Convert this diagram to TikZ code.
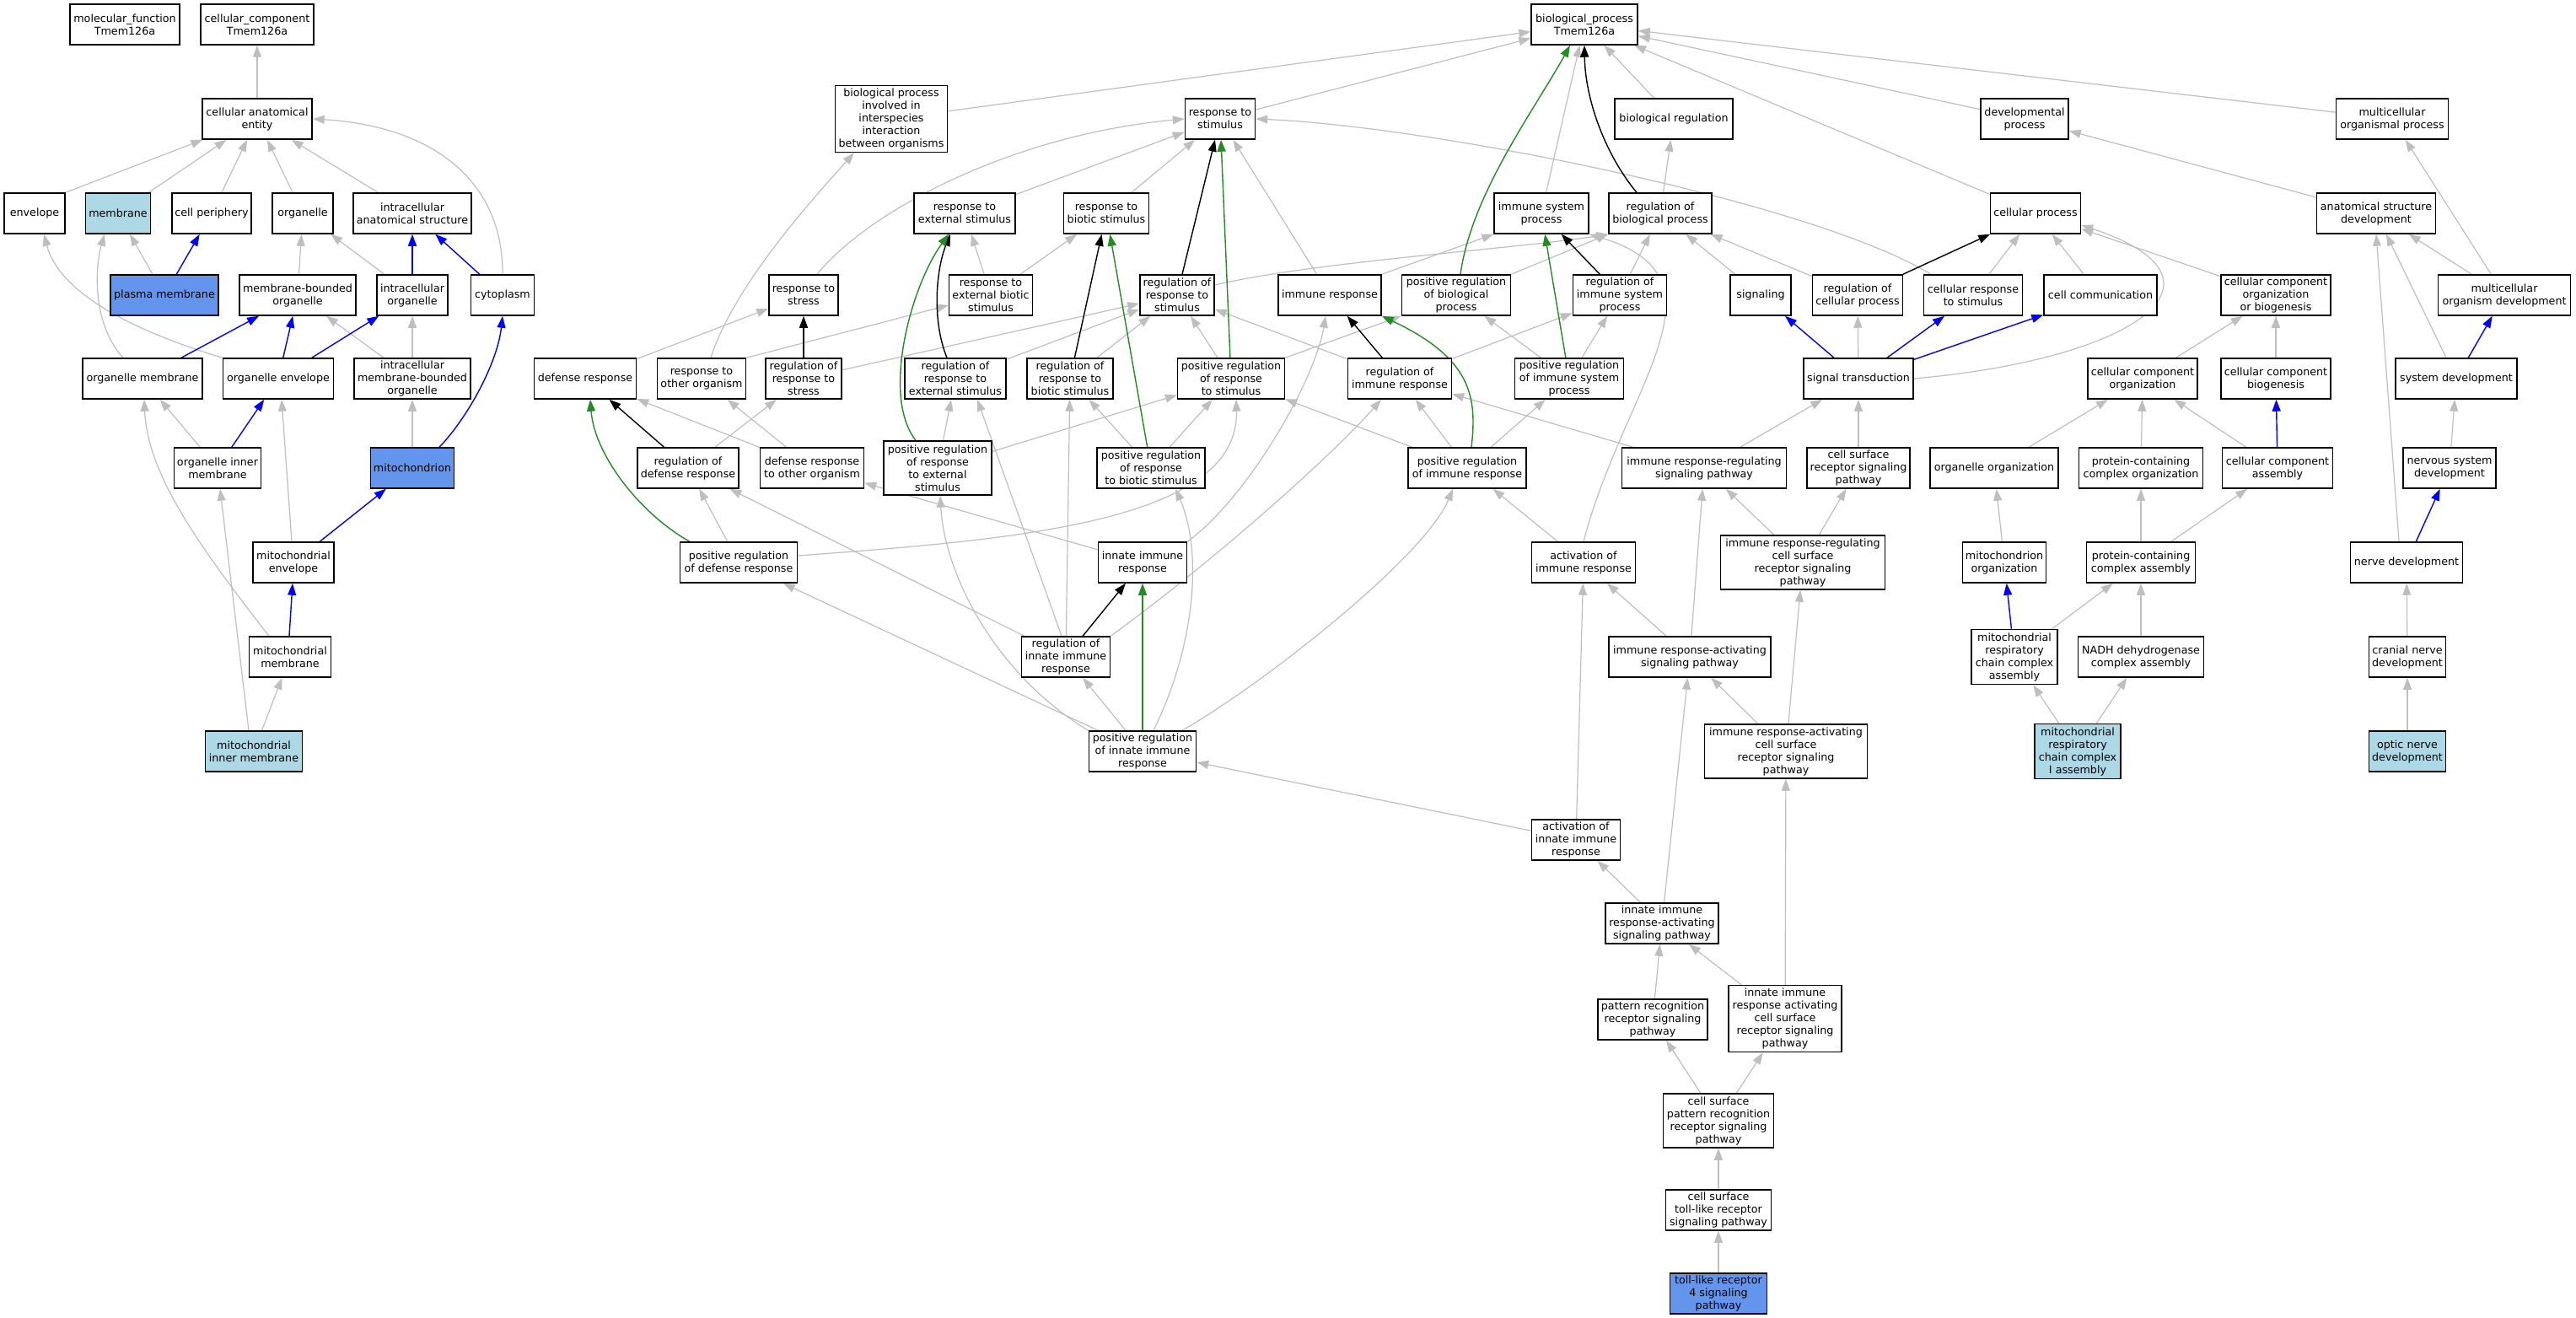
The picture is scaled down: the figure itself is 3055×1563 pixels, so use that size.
\documentclass[tikz,border=0pt]{standalone}
\usepackage{fontspec}
\setmainfont{DejaVu Sans}
\usetikzlibrary{arrows.meta}
\definecolor{eg}{HTML}{BEBEBE}
\definecolor{lb}{HTML}{ADD8E6}
\definecolor{cb}{HTML}{6495ED}
\definecolor{fg}{HTML}{228B22}
\pgfdeclarelayer{bg}
\pgfsetlayers{bg,main}
\begin{document}
\begin{tikzpicture}[x=1pt,y=-1pt,
  box/.style={draw=black, line width=1.5pt, fill=white, align=center,
    font=\fontsize{12.7}{15}\selectfont, inner xsep=1pt, inner ysep=0pt, minimum height=48pt},
  tip/.style={-{Triangle[length=14pt,width=10pt]}},
  gr/.style={tip, draw=eg, line width=1.2pt},
  bk/.style={tip, draw=black, line width=1.4pt},
  bl/.style={tip, draw=blue, line width=1.4pt},
  gn/.style={tip, draw=fg, line width=1.4pt}]
\useasboundingbox (0,0) rectangle (3055,1563);
% ---------- cellular component ----------
\node[box,minimum width=130pt] (mf) at (148,29) {molecular\_function\\Tmem126a};
\node[box,minimum width=134pt] (cc) at (305,29) {cellular\_component\\Tmem126a};
\node[box,minimum width=130pt] (cae) at (305,141) {cellular anatomical\\entity};
\node[box,minimum width=72pt] (env) at (41,253) {envelope};
\node[box,minimum width=77pt,fill=lb] (mem) at (140,253) {membrane};
\node[box,minimum width=94pt] (cper) at (251,253) {cell periphery};
\node[box,minimum width=72pt] (org) at (359,253) {organelle};
\node[box,minimum width=140pt] (ias) at (489,253) {intracellular\\anatomical structure};
\node[box,minimum width=128pt,fill=cb] (pm) at (195,350) {plasma membrane};
\node[box,minimum width=138pt] (mbo) at (353,350) {membrane-bounded\\organelle};
\node[box,minimum width=84pt] (io) at (489,350) {intracellular\\organelle};
\node[box,minimum width=75pt] (cyto) at (596,350) {cytoplasm};
\node[box,minimum width=142pt] (om) at (169,449) {organelle membrane};
\node[box,minimum width=131pt] (oe) at (330,449) {organelle envelope};
\node[box,minimum width=138pt] (imbo) at (489,449) {intracellular\\membrane-bounded\\organelle};
\node[box,minimum width=103pt] (oim) at (258,555) {organelle inner\\membrane};
\node[box,minimum width=99pt,fill=cb] (mito) at (489,555) {mitochondrion};
\node[box,minimum width=96pt] (menv) at (348,667) {mitochondrial\\envelope};
\node[box,minimum width=97pt] (mmem) at (344,779) {mitochondrial\\membrane};
\node[box,minimum width=115pt,fill=lb] (mim) at (301,891) {mitochondrial\\inner membrane};
% ---------- biological process ----------
\node[box,minimum width=126pt] (bp) at (1879,29) {biological\_process\\Tmem126a};
\node[box,minimum width=133pt,minimum height=79pt] (bpii) at (1057,141) {biological process\\involved in\\interspecies\\interaction\\between organisms};
\node[box,minimum width=83pt] (rs) at (1447,141) {response to\\stimulus};
\node[box,minimum width=140pt] (breg) at (1985,141) {biological regulation};
\node[box,minimum width=104pt] (dev) at (2401,141) {developmental\\process};
\node[box,minimum width=133pt] (mop) at (2837,141) {multicellular\\organismal process};
\node[box,minimum width=120pt] (res) at (1144,253) {response to\\external stimulus};
\node[box,minimum width=101pt] (rbs) at (1312,253) {response to\\biotic stimulus};
\node[box,minimum width=112pt] (isp) at (1828,253) {immune system\\process};
\node[box,minimum width=122pt] (rbp) at (1969,253) {regulation of\\biological process};
\node[box,minimum width=107pt] (cp) at (2414,253) {cellular process};
\node[box,minimum width=141pt] (asd) at (2818,253) {anatomical structure\\development};
\node[box,minimum width=82pt] (rstress) at (953,350) {response to\\stress};
\node[box,minimum width=99pt] (rebs) at (1175,350) {response to\\external biotic\\stimulus};
\node[box,minimum width=88pt] (rrs) at (1396,350) {regulation of\\response to\\stimulus};
\node[box,minimum width=122pt] (ir) at (1577,350) {immune response};
\node[box,minimum width=129pt] (prbp) at (1727,350) {positive regulation\\of biological\\process};
\node[box,minimum width=111pt] (risp) at (1921,350) {regulation of\\immune system\\process};
\node[box,minimum width=72pt] (sig) at (2088,350) {signaling};
\node[box,minimum width=107pt] (rcp) at (2203,350) {regulation of\\cellular process};
\node[box,minimum width=117pt] (crs) at (2340,350) {cellular response\\to stimulus};
\node[box,minimum width=134pt] (ccomm) at (2491,350) {cell communication};
\node[box,minimum width=130pt] (ccob) at (2699,350) {cellular component\\organization\\or biogenesis};
\node[box,minimum width=157pt] (mod) at (2970,350) {multicellular\\organism development};
\node[box,minimum width=121pt] (dr) at (694,449) {defense response};
\node[box,minimum width=105pt] (roo) at (832,449) {response to\\other organism};
\node[box,minimum width=90pt] (rrstress) at (953,449) {regulation of\\response to\\stress};
\node[box,minimum width=120pt] (rres) at (1133,449) {regulation of\\response to\\external stimulus};
\node[box,minimum width=102pt] (rrbs) at (1269,449) {regulation of\\response to\\biotic stimulus};
\node[box,minimum width=127pt] (prrs) at (1460,449) {positive regulation\\of response\\to stimulus};
\node[box,minimum width=123pt] (rir) at (1660,449) {regulation of\\immune response};
\node[box,minimum width=129pt] (prisp) at (1861,449) {positive regulation\\of immune system\\process};
\node[box,minimum width=130pt] (st) at (2204,449) {signal transduction};
\node[box,minimum width=130pt] (cco) at (2541,449) {cellular component\\organization};
\node[box,minimum width=130pt] (ccb) at (2699,449) {cellular component\\biogenesis};
\node[box,minimum width=144pt] (sd) at (2913,449) {system development};
\node[box,minimum width=120pt] (rdr) at (816,555) {regulation of\\defense response};
\node[box,minimum width=123pt] (dro) at (963,555) {defense response\\to other organism};
\node[box,minimum width=128pt,minimum height=64pt] (prres) at (1112,555) {positive regulation\\of response\\to external\\stimulus};
\node[box,minimum width=128pt] (prrbs) at (1365,555) {positive regulation\\of response\\to biotic stimulus};
\node[box,minimum width=140pt] (prir) at (1740,555) {positive regulation\\of immune response};
\node[box,minimum width=195pt] (irrsp) at (2021,555) {immune response-regulating\\signaling pathway};
\node[box,minimum width=122pt] (csrsp) at (2204,555) {cell surface\\receptor signaling\\pathway};
\node[box,minimum width=152pt] (oo) at (2365,555) {organelle organization};
\node[box,minimum width=147pt] (pcco) at (2539,555) {protein-containing\\complex organization};
\node[box,minimum width=131pt] (cca) at (2701,555) {cellular component\\assembly};
\node[box,minimum width=110pt] (nsd) at (2905,555) {nervous system\\development};
\node[box,minimum width=139pt] (prdr) at (876,667) {positive regulation\\of defense response};
\node[box,minimum width=105pt] (iir) at (1355,667) {innate immune\\response};
\node[box,minimum width=123pt] (air) at (1878,667) {activation of\\immune response};
\node[box,minimum width=195pt,minimum height=64pt] (irrcs) at (2138,667) {immune response-regulating\\cell surface\\receptor signaling\\pathway};
\node[box,minimum width=99pt] (mo) at (2377,667) {mitochondrion\\organization};
\node[box,minimum width=129pt] (pcca) at (2539,667) {protein-containing\\complex assembly};
\node[box,minimum width=133pt] (nd) at (2854,667) {nerve development};
\node[box,minimum width=105pt] (riir) at (1264,779) {regulation of\\innate immune\\response};
\node[box,minimum width=192pt] (irasp) at (2004,779) {immune response-activating\\signaling pathway};
\node[box,minimum width=102pt,minimum height=65pt] (mrcca) at (2389,779) {mitochondrial\\respiratory\\chain complex\\assembly};
\node[box,minimum width=149pt] (nadh) at (2539,779) {NADH dehydrogenase\\complex assembly};
\node[box,minimum width=91pt] (cnd) at (2855,779) {cranial nerve\\development};
\node[box,minimum width=127pt] (priir) at (1355,891) {positive regulation\\of innate immune\\response};
\node[box,minimum width=193pt,minimum height=64pt] (iracs) at (2118,891) {immune response-activating\\cell surface\\receptor signaling\\pathway};
\node[box,minimum width=102pt,minimum height=65pt,fill=lb] (mrcc1) at (2464,891) {mitochondrial\\respiratory\\chain complex\\I assembly};
\node[box,minimum width=91pt,fill=lb] (ond) at (2855,891) {optic nerve\\development};
\node[box,minimum width=105pt] (aiir) at (1869,996) {activation of\\innate immune\\response};
\node[box,minimum width=134pt] (iirasp) at (1971,1095) {innate immune\\response-activating\\signaling pathway};
\node[box,minimum width=130pt] (prrsp) at (1960,1209) {pattern recognition\\receptor signaling\\pathway};
\node[box,minimum width=134pt,minimum height=79pt] (iiracs) at (2117,1208) {innate immune\\response activating\\cell surface\\receptor signaling\\pathway};
\node[box,minimum width=131pt,minimum height=64pt] (csprr) at (2038,1329) {cell surface\\pattern recognition\\receptor signaling\\pathway};
\node[box,minimum width=125pt] (cstlr) at (2038,1435) {cell surface\\toll-like receptor\\signaling pathway};
\node[box,minimum width=115pt,fill=cb] (tlr4) at (2038,1534) {toll-like receptor\\4 signaling\\pathway};

\begin{pgfonlayer}{bg}
% ---- CC gray ----
\draw[gr] (cae) -- (cc);
\draw[gr] (env.north east) -- (cae);
\draw[gr] (mem) -- (cae);
\draw[gr] (cper) -- (cae);
\draw[gr] (org) -- (cae);
\draw[gr] (ias) -- (cae);
\draw[gr] (cyto.north) .. controls (597,220) and (520,150) .. (cae.east);
\draw[gr] (pm) -- (mem);
\draw[gr] (mbo) -- (org);
\draw[gr] (io) -- (org);
\draw[gr] ([xshift=-23pt]om.north) .. controls (110,385) and (112,320) .. ([xshift=-16pt]mem.south);
\draw[gr] (oe.north west) .. controls (150,390) and (70,345) .. ([xshift=11pt]env.south);
\draw[gr] (imbo) -- (mbo);
\draw[gr] (imbo) -- (io);
\draw[gr] (oim) -- (om);
\draw[gr] ([xshift=-2pt]menv.north) -- ([xshift=4pt]oe.south);
\draw[gr] ([xshift=-25pt]mmem.north) .. controls (230,640) and (175,560) .. ([xshift=2pt]om.south);
\draw[gr] (mim) -- (mmem);
\draw[gr] ([xshift=-6pt]mim.north) -- ([xshift=3pt]oim.south);
\draw[gr] (mito) -- (imbo);
% ---- CC blue ----
\draw[bl] (pm) -- (cper);
\draw[bl] (io) -- (ias);
\draw[bl] (cyto) -- (ias);
\draw[bl] (om) -- (mbo);
\draw[bl] (oe) -- (mbo);
\draw[bl] (oe) -- (io);
\draw[bl] (oim) -- (oe);
\draw[bl] ([xshift=32pt]mito.north) .. controls (555,495) and (590,430) .. (cyto.south);
\draw[bl] (menv) -- (mito);
\draw[bl] ([xshift=-1pt]mmem.north) -- ([xshift=-1pt]menv.south);
% ---- BP gray ----
\draw[gr] (bpii) -- (bp);
\draw[gr] (rs) -- (bp);
\draw[gr] (isp) -- (bp);
\draw[gr] (breg) -- (bp);
\draw[gr] (dev) -- (bp);
\draw[gr] (mop) -- (bp);
\draw[gr] (cp) -- (bp);
\draw[gr] (rbp) -- (breg);
\draw[gr] (res) -- (rs);
\draw[gr] (rbs) -- (rs);
\draw[gr] (ir) -- (rs);
\draw[gr] ([xshift=16pt]rstress.north) .. controls (1030,250) and (1200,160) .. (rs.west);
\draw[gr] ([xshift=-50pt]crs.north) .. controls (2150,240) and (1700,150) .. (rs.east);
\draw[gr] (rebs) -- (res);
\draw[gr] (rebs) -- (rbs);
\draw[gr] ([xshift=11pt]roo.north) .. controls (870,340) and (960,240) .. ([xshift=-44pt]bpii.south);
\draw[gr] (roo.north east) -- ([yshift=-12pt]rebs.west);
\draw[gr] (dr) -- (rstress);
\draw[gr] (rrstress) -- (rrs);
\draw[gr] (rres) -- (rrs);
\draw[gr] (rrbs) -- (rrs);
\draw[gr] (prrs) -- (rrs);
\draw[gr] (rir) -- (rrs);
\draw[gr] ([yshift=12pt]rrs.east) .. controls (1560,310) and (1800,295) .. (rbp.south west);
\draw[gr] (ir.north east) -- (isp.south west);
\draw[gr] (prbp.north east) -- (rbp.south west);
\draw[gr] (risp) -- (rbp);
\draw[gr] (sig) -- (rbp);
\draw[gr] (rcp) -- (rbp);
\draw[gr] (air.north) .. controls (1925,460) and (2060,330) .. (isp.south east);
\draw[gr] (prisp) -- (prbp);
\draw[gr] (prisp) -- (risp);
\draw[gr] (rir) -- (risp);
\draw[gr] (prir) -- (rir);
\draw[gr] (prir) -- (prrs);
\draw[gr] (prir) -- (prisp);
\draw[gr] (prrs.north east) -- (prbp.south west);
\draw[gr] (riir.north east) .. controls (1440,665) and (1580,540) .. ([xshift=-22pt]rir.south);
\draw[gr] (iir.north east) .. controls (1480,590) and (1560,450) .. ([xshift=-5pt]ir.south);
\draw[gr] (iir) -- (dro);
\draw[gr] (air) -- (prir);
\draw[gr] (priir) -- (riir);
\draw[gr] (priir) -- (prdr);
\draw[gr] (priir.north west) .. controls (1180,800) and (1120,680) .. ([xshift=3pt]prres.south);
\draw[gr] ([xshift=13pt]priir.north) .. controls (1420,760) and (1425,650) .. ([xshift=29pt]prrbs.south);
\draw[gr] ([xshift=47pt]priir.north) .. controls (1500,810) and (1690,660) .. ([xshift=-17pt]prir.south);
\draw[gr] (aiir) -- (priir);
\draw[gr] (aiir) -- (air);
\draw[gr] (iirasp) -- (aiir);
\draw[gr] (iirasp) -- (irasp);
\draw[gr] (iiracs) -- (iirasp);
\draw[gr] (iiracs) -- (iracs);
\draw[gr] (prrsp) -- (iirasp);
\draw[gr] (csprr) -- (prrsp);
\draw[gr] (csprr) -- (iiracs);
\draw[gr] (cstlr) -- (csprr);
\draw[gr] (tlr4) -- (cstlr);
\draw[gr] (irasp) -- (air);
\draw[gr] (irasp) -- (irrsp);
\draw[gr] (iracs) -- (irasp);
\draw[gr] (iracs) -- (irrcs);
\draw[gr] (irrcs) -- (irrsp);
\draw[gr] (irrcs) -- (csrsp);
\draw[gr] (irrsp) -- (rir);
\draw[gr] (irrsp) -- (st);
\draw[gr] (csrsp) -- (st);
\draw[gr] (st) -- (rcp);
\draw[gr] (st.east) .. controls (2540,425) and (2660,330) .. ([yshift=-14pt]cp.east);
\draw[gr] (rdr) -- (rrstress);
\draw[gr] (dro) -- (dr);
\draw[gr] (dro) -- (roo);
\draw[gr] (prdr) -- (rdr);
\draw[gr] ([yshift=8pt]prdr.east) .. controls (1200,640) and (1470,620) .. ([xshift=6pt]prrs.south);
\draw[gr] (riir) -- (rdr);
\draw[gr] ([xshift=-5pt]riir.north) -- ([xshift=26pt]rres.south);
\draw[gr] (riir) -- (rrbs);
\draw[gr] (prres) -- (rres);
\draw[gr] (prres) -- (prrs);
\draw[gr] (prrbs) -- (rrbs);
\draw[gr] (prrbs) -- (prrs);
% cellular / development
\draw[gr] (crs) -- (cp);
\draw[gr] (ccomm) -- (cp);
\draw[gr] (ccob) -- (cp);
\draw[gr] (cco) -- (ccob);
\draw[gr] (ccb) -- (ccob);
\draw[gr] (cca) -- (cco);
\draw[gr] (pcco) -- (cco);
\draw[gr] (oo) -- (cco);
\draw[gr] (pcca) -- (pcco);
\draw[gr] (pcca) -- (cca);
\draw[gr] (mo) -- (oo);
\draw[gr] (mrcca) -- (pcca);
\draw[gr] (nadh) -- (pcca);
\draw[gr] (mrcc1) -- (mrcca);
\draw[gr] (mrcc1) -- (nadh);
\draw[gr] (asd) -- (dev);
\draw[gr] (mod) -- (asd);
\draw[gr] (mod) -- (mop);
\draw[gr] (sd) -- (asd);
\draw[gr] ([xshift=-9pt]nd.north) -- (asd.south);
\draw[gr] (nsd) -- (sd);
\draw[gr] (cnd) -- (nd);
\draw[gr] (ond) -- (cnd);
% ---- black ----
\draw[bk] ([xshift=-28pt]rbp.north) .. controls (1905,185) and (1880,120) .. (bp.south);
\draw[bk] (rrs) -- (rs);
\draw[bk] ([xshift=-10pt]rres.north) .. controls (1105,380) and (1110,320) .. ([xshift=-17pt]res.south);
\draw[bk] (rrbs) -- (rbs);
\draw[bk] (rrstress) -- (rstress);
\draw[bk] (rdr) -- (dr);
\draw[bk] (risp) -- (isp);
\draw[bk] (rir) -- (ir);
\draw[bk] (riir) -- (iir);
\draw[bk] (rcp) -- (cp);
% ---- green ----
\draw[gn] ([xshift=5pt]prbp.north) .. controls (1745,230) and (1820,130) .. ([xshift=-17pt]bp.south);
\draw[gn] (prrs) -- (rs);
\draw[gn] ([xshift=-26pt]prres.north) .. controls (1045,470) and (1080,340) .. ([xshift=-19pt]res.south);
\draw[gn] (prrbs) -- (rbs);
\draw[gn] ([xshift=-58pt]prdr.north) .. controls (760,610) and (705,540) .. ([xshift=6pt]dr.south);
\draw[gn] (prisp) -- (isp);
\draw[gn] ([xshift=5pt]prir.north) .. controls (1752,470) and (1745,425) .. (ir.south east);
\draw[gn] (priir) -- (iir);
% ---- blue ----
\draw[bl] (st) -- (sig);
\draw[bl] (st) -- (crs);
\draw[bl] (st) -- (ccomm);
\draw[bl] (cca) -- (ccb);
\draw[bl] (sd) -- (mod);
\draw[bl] (nd) -- (nsd);
\draw[bl] (mrcca) -- (mo);
\end{pgfonlayer}
\end{tikzpicture}
\end{document}
